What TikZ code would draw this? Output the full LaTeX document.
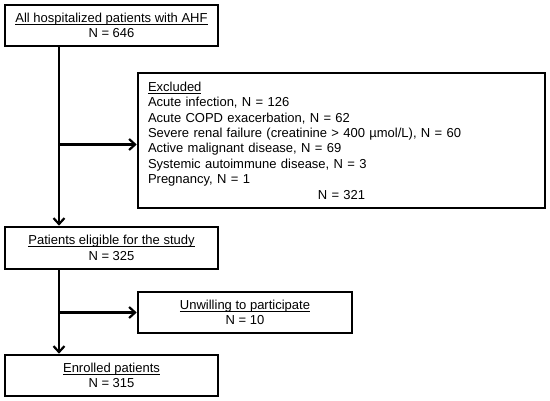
\documentclass[tikz,border=0pt]{standalone}
\usepackage{fontspec}
\setmainfont{Liberation Sans}
\usetikzlibrary{arrows.meta}
\newcommand\myul[1]{\setbox0\hbox{#1}\rlap{\rule[-2.2pt]{\wd0}{0.9pt}}\box0}
\begin{document}
\begin{tikzpicture}[x=1pt,y=-1pt,
  box/.style={draw,line width=2.6pt,inner sep=0pt,align=center,
    font=\fontsize{13}{15.4}\selectfont},
  conn/.style={line width=2.2pt,-{Straight Barb[length=6pt,width=11pt,line width=2.2pt]}}]
\useasboundingbox (0,0) rectangle (550,401);
\node[box,minimum width=213pt,minimum height=41pt] (b1) at (111.5,25.5)
  {\myul{All hospitalized patients with AHF}\\N = 646};
\node[box,minimum width=407pt,minimum height=135pt,align=left,text width=387pt] (exc) at (341.5,140.5)
  {\myul{Excluded}\\
   Acute infection, N = 126\\
   Acute COPD exacerbation, N = 62\\
   Severe renal failure (creatinine > 400 µmol/L), N = 60\\
   Active malignant disease, N = 69\\
   Systemic autoimmune disease, N = 3\\
   Pregnancy, N = 1\\
   \makebox[387pt][c]{N = 321}};
\node[box,minimum width=213pt,minimum height=42pt] (b2) at (111.5,248)
  {\myul{Patients eligible for the study}\\N = 325};
\node[box,minimum width=214pt,minimum height=41pt] (unw) at (245,312.5)
  {\myul{Unwilling to participate}\\N = 10};
\node[box,minimum width=213pt,minimum height=41pt] (b3) at (111.5,375.5)
  {\myul{Enrolled patients}\\N = 315};
\coordinate (spine) at (59,0);
\coordinate (excin) at ([yshift=-4pt]exc.west);
\draw[conn] (b1.south -| spine) -- (b2.north -| spine);
\draw[conn] (spine |- excin) -- (excin);
\draw[conn] (b2.south -| spine) -- (b3.north -| spine);
\draw[conn] (spine |- unw.west) -- (unw.west);
\end{tikzpicture}
\end{document}
